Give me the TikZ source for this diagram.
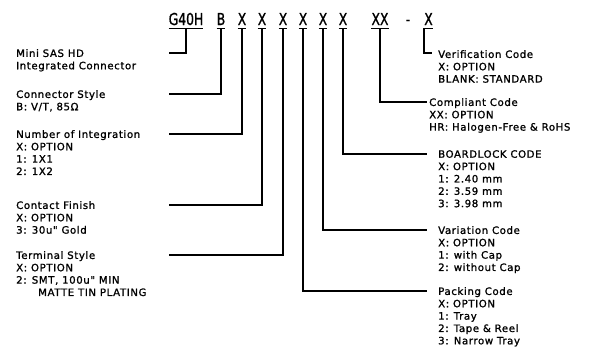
\documentclass[tikz,border=0pt]{standalone}
\usepackage{fontspec}
\setmainfont{DejaVu Sans}
\newfontfamily\codefont{DejaVu Sans}[FakeStretch=0.75,FakeBold=1]
\newfontfamily\descfont{DejaVu Sans}[LetterSpace=6,FakeBold=1.2]
\usetikzlibrary{positioning}

\begin{document}
\begin{tikzpicture}[x=1bp, y=-1bp,
    code/.style={
    % the part number characters
    font=\codefont\fontsize{16.5}{18}\selectfont,
    inner xsep=0pt, inner ysep=3bp, anchor=base},
    desc/.style={
    % the option texts
    font=\descfont\fontsize{10.2}{12.4}\selectfont,
    align=left, inner sep=0pt, anchor=north west},
    lead/.style={line width=1.2bp}]
    \useasboundingbox (0,0) rectangle (596,358);
    % part number
    \node (g40h) [code] at (186,25) {G40H};
    \node (b) [code] at (221,25) {B};
    \node (x1) [code] at (242,25) {X};
    \node (x2) [code] at (262,25) {X};
    \node (x3) [code] at (283,25) {X};
    \node (x4) [code] at (303,25) {X};
    \node (x5) [code] at (323,25) {X};
    \node (x6) [code] at (343,25) {X};
    \node (xx) [code] at (380,25) {XX};
    \node (sep) [code] at (408,25) {-};
    \node (xv) [code] at (428.5,25) {X};
    % left column
    \node (mini) [desc] at (16,49) {Mini SAS HD\\Integrated Connector};
    \node (cstyle) [desc] at (16,90) {Connector Style\\B: V/T, 85Ω};
    \node (integ) [desc] at (16,130) {Number of Integration\\X: OPTION\\1: 1X1\\2: 1X2};
    \node (finish) [desc] at (16,201) {Contact Finish\\X: OPTION\\3: 30u" Gold};
    \node (term) [desc] at (16,251) {Terminal Style\\X: OPTION\\2: SMT, 100u" MIN\\\hspace*{22bp}MATTE TIN PLATING};
    % right column
    \node (verif) [desc] at (438,50) {Verification Code\\X: OPTION\\BLANK: STANDARD};
    \node (compl) [desc] at (429,98) {Compliant Code\\XX: OPTION\\HR: Halogen-Free \& RoHS};
    \node (lock) [desc] at (438,150) {BOARDLOCK CODE\\X: OPTION\\1: 2.40 mm\\2: 3.59 mm\\3: 3.98 mm};
    \node (var) [desc] at (438,226) {Variation Code\\X: OPTION\\1: with Cap\\2: without Cap};
    \node (pack) [desc] at (438,287) {Packing Code\\X: OPTION\\1: Tray\\2: Tape \& Reel\\3: Narrow Tray};
    % lead ends
    \coordinate (mini-end) at (169,53);
    \coordinate (cstyle-end) at (169,94);
    \coordinate (integ-end) at (169,134);
    \coordinate (finish-end) at (169,205);
    \coordinate (term-end) at (169,255);
    \coordinate (verif-end) at (432,53);
    \coordinate (compl-end) at (427,102);
    \coordinate (lock-end) at (427,154);
    \coordinate (var-end) at (427,230);
    \coordinate (pack-end) at (427,291);
    % underlines
    \foreach \n in {g40h,b,x1,x2,x3,x4,x5,x6,xx}
      \draw[lead] (\n.south west) -- (\n.south east);
    % leads
    \draw[lead] (g40h.south) |- (mini-end);
    \draw[lead] (b.south) |- (cstyle-end);
    \draw[lead] (x1.south) |- (integ-end);
    \draw[lead] (x2.south) |- (finish-end);
    \draw[lead] (x3.south) |- (term-end);
    \draw[lead] (x4.south) |- (pack-end);
    \draw[lead] (x5.south) |- (var-end);
    \draw[lead] (x6.south) |- (lock-end);
    \draw[lead] (xx.south) |- (compl-end);
    \draw[lead] (xv.south east) -- (xv.south west) |- (verif-end);
\end{tikzpicture}
\end{document}
